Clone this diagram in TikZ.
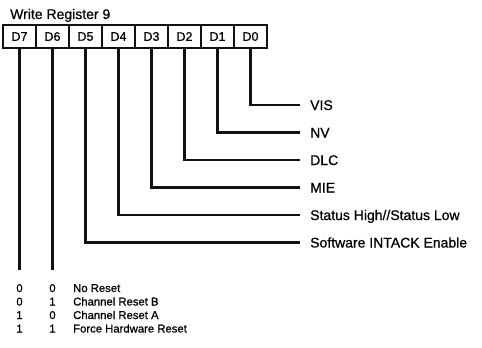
\documentclass[tikz,border=0pt]{standalone}
\usepackage{fontspec}
\setmainfont{Liberation Sans}[BoldFont=Liberation Sans,BoldFeatures={FakeBold=0.7}]
\usepackage{xcolor}
\usetikzlibrary{positioning,calc}
\definecolor{ink}{HTML}{111111}

\begin{document}
\begin{tikzpicture}[
  x=1pt,y=1pt,
  node distance=0pt,
  cell/.style={draw=ink,line width=1.5pt,outer sep=0pt,minimum width=33pt,minimum height=23pt,inner sep=0pt,font=\fontsize{12.5}{14}\selectfont\bfseries},
  frame/.style={draw=ink,line width=2.6pt},
  wire/.style={draw=ink,line width=2.4pt},
  lbl/.style={anchor=west,inner sep=0pt,text height=10pt,text depth=0pt,font=\fontsize{14}{16}\selectfont\bfseries},
  row/.style={anchor=base west,inner sep=0pt,font=\fontsize{11.3}{14}\selectfont\bfseries},
  bit/.style={anchor=base,inner sep=0pt,font=\fontsize{11.3}{14}\selectfont\bfseries}
]
\useasboundingbox (0,0) rectangle (482,-348);
\node[anchor=base west,inner sep=0pt,font=\fontsize{14}{16}\selectfont\bfseries] (title) at (10,-19) {Write Register 9};
% register cells
\node[cell] (d7) at (19.5,-36.5) {D7};
\node[cell,right=of d7] (d6) {D6};
\node[cell,right=of d6] (d5) {D5};
\node[cell,right=of d5] (d4) {D4};
\node[cell,right=of d4] (d3) {D3};
\node[cell,right=of d3] (d2) {D2};
\node[cell,right=of d2] (d1) {D1};
\node[cell,right=of d1] (d0) {D0};
\draw[frame] (d7.north west) rectangle (d0.south east);
% bit labels
\node[lbl] (vis) at (310,-105) {VIS};
\node[lbl] (nv) at (310,-132.5) {NV};
\node[lbl] (dlc) at (310,-160) {DLC};
\node[lbl] (mie) at (310,-187.5) {MIE};
\node[lbl] (stat) at (310,-215) {Status High//Status Low};
\node[lbl] (intack) at (310,-242.5) {Software INTACK Enable};
\draw[wire] (d0.south) |- ([xshift=-10pt]vis.west);
\draw[wire] (d1.south) |- ([xshift=-10pt]nv.west);
\draw[wire] (d2.south) |- ([xshift=-10pt]dlc.west);
\draw[wire] (d3.south) |- ([xshift=-10pt]mie.west);
\draw[wire] (d4.south) |- ([xshift=-10pt]stat.west);
\draw[wire] (d5.south) |- ([xshift=-10pt]intack.west);
% reset bits
\coordinate (e7) at (d7.south |- 0,-270);
\coordinate (e6) at (d6.south |- 0,-270);
\draw[wire] (d7.south) -- (e7);
\draw[wire] (d6.south) -- (e6);
\node[bit] (a1) at (19.5,-292) {0};
\node[bit] (b1) at (52.5,-292) {0};
\node[row] (r1) at (73,-292) {No Reset};
\node[bit] (a2) at (19.5,-305.5) {0};
\node[bit] (b2) at (52.5,-305.5) {1};
\node[row] (r2) at (73,-305.5) {Channel Reset B};
\node[bit] (a3) at (19.5,-319) {1};
\node[bit] (b3) at (52.5,-319) {0};
\node[row] (r3) at (73,-319) {Channel Reset A};
\node[bit] (a4) at (19.5,-332.5) {1};
\node[bit] (b4) at (52.5,-332.5) {1};
\node[row] (r4) at (73,-332.5) {Force Hardware Reset};
\end{tikzpicture}
\end{document}
